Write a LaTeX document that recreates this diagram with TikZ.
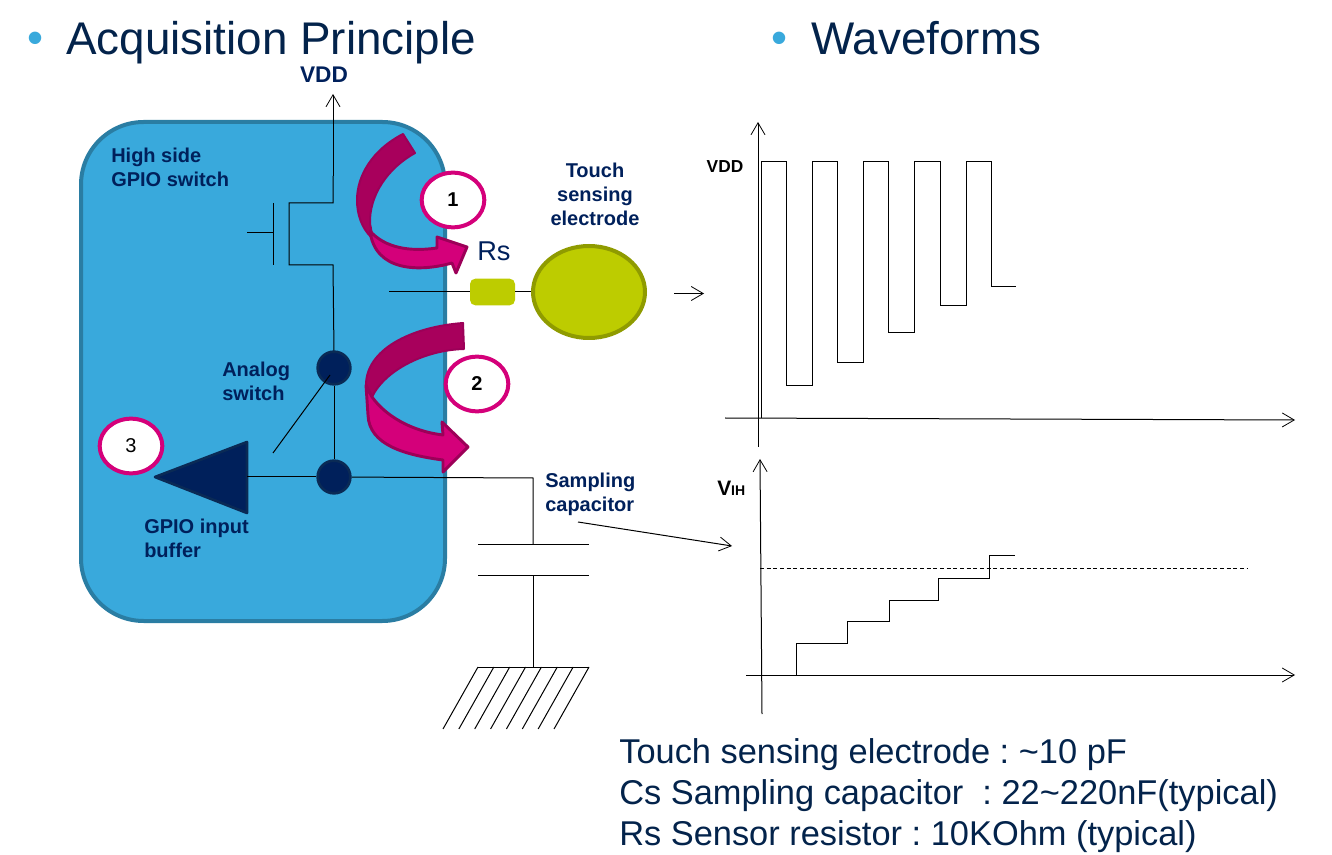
\documentclass[tikz,border=0pt]{standalone}
\usepackage{fontspec}
\setmainfont{Liberation Sans}
\usetikzlibrary{arrows.meta,shapes.geometric}
\AtBeginDocument{\frenchspacing}
\definecolor{navy}{HTML}{03234B}
\definecolor{labelblue}{HTML}{00205B}
\definecolor{chipblue}{HTML}{39A9DC}
\definecolor{chipedge}{HTML}{2A7DA3}
\definecolor{lime}{HTML}{BDCC00}
\definecolor{limeedge}{HTML}{8F9B00}
\definecolor{mag}{HTML}{D4007A}
\definecolor{magdark}{HTML}{A8005C}
\definecolor{magedge}{HTML}{9C0058}
\definecolor{dotedge}{HTML}{0A2A55}
\newcommand{\fs}[2]{\fontsize{#1}{#2}\selectfont}
\tikzset{
  x=0.75pt,y=-0.75pt,
  wire/.style={draw=black,line width=0.75pt},
  arrowwire/.style={wire,-{Straight Barb[length=9pt,width=10.5pt,line width=0.6pt]}},
  title/.style={inner sep=0pt,anchor=base west,text=navy,font=\fs{34.35}{40}},
  blabel/.style={inner sep=0pt,anchor=west,text=labelblue,align=left,font=\fs{15}{18}\bfseries},
  clabel/.style={inner sep=0pt,text=labelblue,align=center,font=\fs{15}{18}\bfseries},
  numbox/.style={ellipse,draw=mag,fill=white,line width=3pt,minimum width=47pt,minimum height=41pt,inner sep=0pt},
  numtext/.style={inner sep=0pt,font=\fs{15}{18}\bfseries,text=black},
  dot/.style={circle,fill=labelblue,draw=dotedge,line width=2pt,minimum size=24.5pt,inner sep=0pt},
  backband/.style={fill=magdark,draw=magedge,line width=1.5pt,line join=round},
  frontband/.style={fill=mag,draw=magedge,line width=2.2pt,line join=round},
  bottomline/.style={inner sep=0pt,anchor=base west,text=navy,font=\fs{25.8}{30}},
}
\begin{document}
\begin{tikzpicture}
\useasboundingbox (0,0) rectangle (1332,855);
% titles
\node[title,text=chipblue] (b1) at (27,54) {•};
\node[title] (t1) at (66,55) {Acquisition Principle};
\node[title,text=chipblue] (b2) at (771,54) {•};
\node[title] (t2) at (811,55) {Waveforms};
% chip body
\draw[fill=chipblue,draw=chipedge,line width=3pt,rounded corners=47pt] (81,122) rectangle (445,621);
% coordinates
\coordinate (vddtop) at (333,94);
\coordinate (dr) at (333,203);
\coordinate (d1) at (289,203);
\coordinate (s1) at (289,265);
\coordinate (sr) at (333,265);
\coordinate (g1) at (273,203);
\coordinate (g2) at (273,265);
\coordinate (g0) at (273,233);
\coordinate (g3) at (247,233);
\coordinate (outl) at (389,292);
% transistor
\draw[arrowwire] (333,176) -- (vddtop);
\draw[wire] (333,176) -- (dr) -- (d1) -- (s1) -- (sr) -- (334,352);
\draw[wire] (g1) -- (g2);
\draw[wire] (g3) -- (g0);
% nodes
\node[dot] (sw) at (334,368) {};
\node[dot] (jn) at (334,477) {};
\draw[wire] (sw) -- (jn);
\draw[wire] (330,375) -- (273,453);
\path[fill=labelblue,draw=dotedge,line width=2pt,line join=round] (155,477) -- (247,442) -- (247,513) -- cycle;
\coordinate (buf) at (247,477);
\draw[wire] (buf) -- (jn);
% electrode
\node[draw=none,fill=lime,rounded corners=4pt,minimum width=33.75pt,minimum height=20pt,inner sep=0pt] (rs) at (492.5,292) {};
\draw[wire] (outl) -- (rs);
\node[draw=limeedge,fill=lime,line width=3pt,ellipse,minimum width=84pt,minimum height=69pt,inner sep=0pt] (el) at (589,292) {};
\draw[wire] (rs) -- (el);
% capacitor
\coordinate (c0) at (533,478);
\coordinate (c1) at (533,544);
\coordinate (c2) at (533,575);
\coordinate (c3) at (533,667);
\draw[wire] (jn) -- (c0) -- (c1);
\draw[wire] (478,544) -- (589,544);
\draw[wire] (478,575) -- (589,575);
\draw[wire] (c2) -- (c3);
\draw[wire] (478,667) -- (589,667);
\foreach \i in {0,...,7} \draw[wire] ({478+\i*15.86},667) -- ({443+\i*15.86},729);
% arrow 1
\path[backband] (403,134) .. controls (372,150) and (357,176) .. (357,200) .. controls (357,215) and (362,228) .. (371,237) .. controls (372,232) and (371,228) .. (370,224) .. controls (369,195) and (388,168) .. (415,153) -- cycle;
\path[frontband] (370,231) .. controls (385,248) and (410,252) .. (437,248) -- (437,237) -- (467,247) -- (456,273) -- (452,263) .. controls (420,272) and (375,272) .. (370,231) -- cycle;
% arrow 2
\path[backband] (463,323) .. controls (410,327) and (366,350) .. (366,385) .. controls (366,392) and (368,394) .. (372,397) .. controls (385,370) and (425,350) .. (464,349) -- cycle;
\path[frontband] (372,397) .. controls (385,415) and (410,431) .. (443,435) -- (442,422) -- (468,447) -- (443,472) -- (443,460) .. controls (405,455) and (369,445) .. (368,415) -- (366,385) -- cycle;
% circles
\node[numbox] (n1) at (453,200) {};
\node[numtext] (n1t) at (n1) {1};
\node[numbox] (n2) at (477,384) {};
\node[numtext] (n2t) at (n2) {2};
\node[numbox] (n3) at (131,446) {};
\node[numtext,font=\fs{15}{18}] (n3t) at (n3) {3};
% labels
\node[clabel,font=\fs{17}{20}\bfseries] (vdd) at (324,75) {VDD};
\node[blabel] (hs) at (111,167) {High side\\GPIO switch};
\node[blabel] (as) at (222,381) {Analog\\switch};
\node[blabel] (gb) at (144,538) {GPIO input\\ buffer};
\node[clabel] (tse) at (595,194) {Touch\\sensing\\electrode};
\node[blabel] (sc) at (545,494) {Sampling\\capacitor};
\node[inner sep=0pt,anchor=base west,text=labelblue,font=\fs{20.4}{24}] (rslab) at (477,261) {Rs};
\node[inner sep=0pt,text=black,font=\fs{13}{16}\bfseries] (vdd2) at (725,167) {VDD};
\node[inner sep=0pt,anchor=base west,text=black,font=\fs{15.7}{18}\bfseries] (vih) at (717,495) {V{\fs{10.5}{12}IH}};
% waveform 1
\coordinate (a1b) at (758,447); \coordinate (a1t) at (758,122);
\coordinate (a2l) at (725,418); \coordinate (a2r) at (1295,420);
\draw[arrowwire] (a1b) -- (a1t);
\draw[arrowwire] (a2l) -- (a2r);
\draw[wire] (761,418) -- (761,162) -- (786,162) -- (786,386) -- (812,386) -- (812,162) -- (837,162) -- (837,363) -- (863,363) -- (863,162) -- (888,162) -- (888,333) -- (914,333) -- (914,162) -- (940,162) -- (940,306) -- (966,306) -- (966,162) -- (991,162) -- (991,287) -- (1016,287);
\coordinate (p1) at (674,293.5); \coordinate (p2) at (704,293.5);
\draw[arrowwire] (p1) -- (p2);
% waveform 2
\coordinate (b1b) at (762,714); \coordinate (b1t) at (760,459);
\coordinate (b2l) at (746,675); \coordinate (b2r) at (1295,675);
\draw[arrowwire] (b1b) -- (b1t);
\draw[arrowwire] (b2l) -- (b2r);
\draw[wire,dash pattern=on 3pt off 2pt] (760,568) -- (1248,568);
\draw[wire] (796,675) -- (796,643) -- (847,643) -- (847,621) -- (889,621) -- (889,600) -- (938,600) -- (938,578) -- (989,578) -- (989,555) -- (1015,555);
\coordinate (q1) at (578,522); \coordinate (q2) at (732,546);
\draw[arrowwire] (q1) -- (q2);
% bottom text
\node[bottomline] (l1) at (619,763) {Touch sensing electrode : \textasciitilde10 pF};
\node[bottomline] (l2) at (619,804) {Cs Sampling capacitor\ \ : 22\textasciitilde220nF(typical)};
\node[bottomline] (l3) at (619,845) {Rs Sensor resistor : 10KOhm (typical)};
\end{tikzpicture}
\end{document}
